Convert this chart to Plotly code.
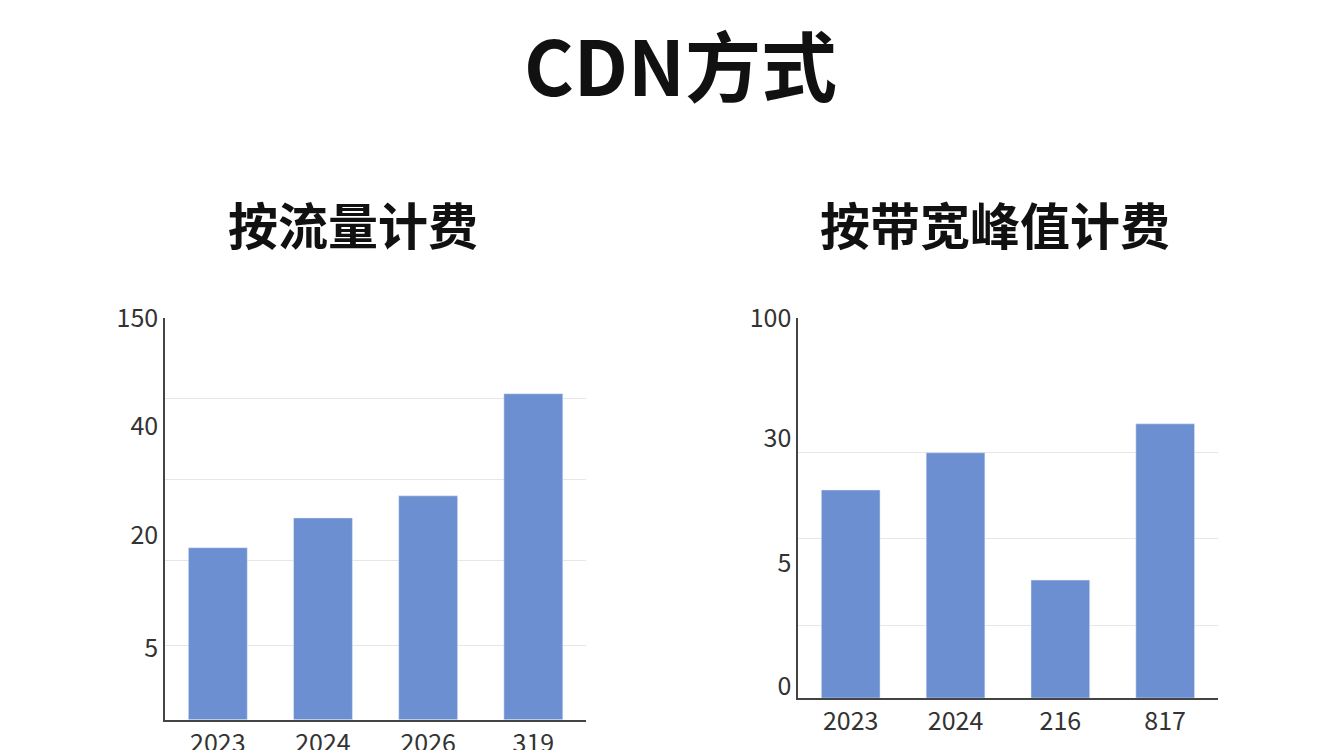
import plotly.graph_objects as go

# Left chart: 按流量计费
left_cats = ["2023", "2024", "2026", "319"]
left_vals = [42.8, 50.2, 55.7, 81.1]          # heights on the display scale (0-100)
left_tick_pos = [17.9, 45.8, 73.1, 100]
left_tick_text = ["5", "20", "40", "150"]
left_grid = [18.4, 39.6, 59.7, 80, 100]

# Right chart: 按带宽峰值计费
right_cats = ["2023", "2024", "216", "817"]
right_vals = [54.7, 64.5, 31.0, 72.1]
right_tick_pos = [3, 35.5, 68.4, 100]
right_tick_text = ["0", "5", "30", "100"]
right_grid = [19, 42, 64.5, 100]

bar_color = "#6b8fd0"
font = "Noto Sans CJK SC"

fig = go.Figure()
fig.add_trace(go.Bar(x=left_cats, y=left_vals, marker_color=bar_color, width=0.56,
                     xaxis="x", yaxis="y"))
fig.add_trace(go.Bar(x=right_cats, y=right_vals, marker_color=bar_color, width=0.56,
                     xaxis="x2", yaxis="y2"))

axis_font = dict(family=font, size=25, color="#333333")
fig.update_layout(
    width=1344, height=750, showlegend=False,
    margin=dict(l=0, r=0, t=0, b=0, autoexpand=False),
    paper_bgcolor="white", plot_bgcolor="white",
    font=dict(family=font),
    xaxis=dict(domain=[0.117, 0.43], anchor="y", showline=True, linecolor="#444", linewidth=2,
               tickfont=axis_font, ticks="", showgrid=False, automargin=False),
    yaxis=dict(domain=[0.051, 0.587], anchor="x", range=[0, 100], showline=True,
               linecolor="#444", linewidth=2, tickvals=left_tick_pos, ticktext=left_tick_text,
               tickfont=axis_font, showgrid=False, ticks="", zeroline=False, automargin=False,
               minor=dict(tickvals=left_grid, showgrid=True, gridcolor="#e6e6e6", gridwidth=1)),
    xaxis2=dict(domain=[0.588, 0.9], anchor="y2", showline=True, linecolor="#444", linewidth=2,
                tickfont=axis_font, ticks="", showgrid=False, automargin=False),
    yaxis2=dict(domain=[0.08, 0.587], anchor="x2", range=[0, 100], showline=True,
                linecolor="#444", linewidth=2, tickvals=right_tick_pos, ticktext=right_tick_text,
                tickfont=axis_font, showgrid=False, ticks="", zeroline=False, automargin=False,
                minor=dict(tickvals=right_grid, showgrid=True, gridcolor="#e6e6e6", gridwidth=1)),
    bargap=0.44,
)
fig.add_annotation(text="<b>CDN方式</b>", x=0.5, y=1 - 55/750, xref="paper", yref="paper",
                   xanchor="center", yanchor="middle",
                   showarrow=False, font=dict(family=font, size=76, color="#111"))
fig.add_annotation(text="<b>按流量计费</b>", x=345/1344, y=1 - 215/750, xref="paper", yref="paper",
                   xanchor="center", yanchor="middle",
                   showarrow=False, font=dict(family=font, size=50, color="#111"))
fig.add_annotation(text="<b>按带宽峰值计费</b>", x=987/1344, y=1 - 215/750, xref="paper", yref="paper",
                   xanchor="center", yanchor="middle",
                   showarrow=False, font=dict(family=font, size=50, color="#111"))

fig.write_html("out.html")
